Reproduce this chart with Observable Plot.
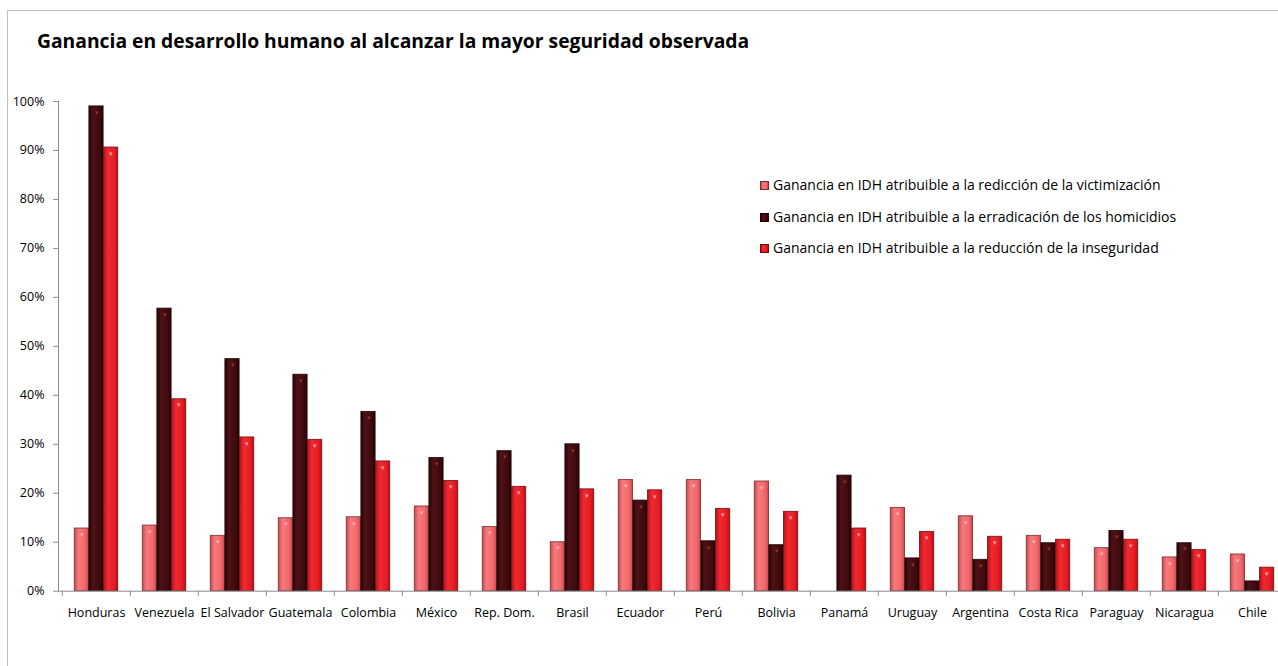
<!DOCTYPE html>
<html>
<head>
<meta charset="utf-8">
<script src="https://cdn.jsdelivr.net/npm/d3@7"></script>
<script src="https://cdn.jsdelivr.net/npm/@observablehq/plot@0.6"></script>
<style>
  html, body { margin: 0; padding: 0; background: #fff; overflow: hidden; width: 1278px; height: 666px; }
  #frame { position: absolute; left: 7px; top: 10px; width: 1400px; height: 800px; border: 1px solid #c3c3c3; box-sizing: border-box; }
  #title { position: absolute; left: 37px; top: 27px; font-family: "Open Sans", sans-serif; font-weight: bold; font-size: 19.3px; color: #000; white-space: nowrap; }
  #chart { position: absolute; left: 0; top: 80px; }
  #chart svg { max-width: none !important; }
  #legend { position: absolute; left: 760px; top: 175px; font-family: "Open Sans", sans-serif; font-size: 14px; color: #000; }
  .item { height: 31.5px; display: flex; align-items: flex-start; white-space: nowrap; }
  .sw { width: 9px; height: 9px; margin-right: 4px; margin-top: 6px; box-sizing: border-box; border: 1px solid; }
</style>
</head>
<body>
<div id="frame"></div>
<div id="title">Ganancia en desarrollo humano al alcanzar la mayor seguridad observada</div>
<div id="chart"></div>
<div id="legend"></div>
<script>
const countries = ["Honduras","Venezuela","El Salvador","Guatemala","Colombia","México","Rep. Dom.","Brasil","Ecuador","Perú","Bolivia","Panamá","Uruguay","Argentina","Costa Rica","Paraguay","Nicaragua","Chile"];
const victimizacion = [0.128,0.134,0.113,0.149,0.151,0.173,0.131,0.100,0.227,0.227,0.224,0,0.170,0.153,0.113,0.088,0.069,0.075];
const homicidios    = [0.990,0.577,0.474,0.442,0.366,0.272,0.286,0.300,0.185,0.102,0.094,0.236,0.067,0.064,0.098,0.123,0.098,0.020];
const inseguridad   = [0.906,0.392,0.314,0.309,0.265,0.225,0.213,0.208,0.206,0.168,0.162,0.128,0.121,0.111,0.105,0.105,0.084,0.048];
const seriesNames = [
  "Ganancia en IDH atribuible a la redicción de la victimización",
  "Ganancia en IDH atribuible a la erradicación de los homicidios",
  "Ganancia en IDH atribuible a la reducción de la inseguridad"
];
const yTicks = [0,0.1,0.2,0.3,0.4,0.5,0.6,0.7,0.8,0.9,1.0];

const seriesStyle = [
  {id: "gLight", stops: ["#c9484c", "#f47a7c", "#f2686b"], stroke: "#7a2a2c"},
  {id: "gDark",  stops: ["#2a0406", "#4f1216", "#3e0a0d"], stroke: "#1a0000"},
  {id: "gRed",   stops: ["#b5101a", "#f02a30", "#e81c24"], stroke: "#6e0c10"}
];

const allSeries = [victimizacion, homicidios, inseguridad];
const W = 1300, ML = 58, MR = 11;
const step = (W - ML - MR) / countries.length;
const barW = 14.6, pad = (step - 3 * barW) / 2;

const barMarks = allSeries.map((vals, i) => {
  const data = countries.map((c, j) => ({country: c, value: vals[j]})).filter(d => d.value > 0);
  return Plot.barY(data, {
    x: "country", y: "value",
    fill: `url(#${seriesStyle[i].id})`,
    stroke: seriesStyle[i].stroke, strokeWidth: 1, strokeOpacity: 0.8,
    insetLeft: pad + i * barW,
    insetRight: step - pad - (i + 1) * barW
  });
});

const highlightMarks = allSeries.map((vals, i) => {
  const data = countries.map((c, j) => ({country: c, value: vals[j]})).filter(d => d.value > 0.03);
  return Plot.text(data, {
    x: "country", y: "value", text: () => "▾",
    dx: -step / 2 + pad + (i + 0.5) * barW, dy: 6,
    fontSize: 7, fill: i === 1 ? "#a03a3e" : "#ffc0c0", fillOpacity: 0.8
  });
});

const plot = Plot.plot({
  width: W, height: 586,
  marginLeft: ML, marginRight: MR, marginTop: 21, marginBottom: 75.3,
  style: {fontFamily: "Open Sans, sans-serif", fontSize: "12.5px", color: "#000", background: "transparent", overflow: "visible"},
  x: {domain: countries, padding: 0},
  y: {domain: [0, 1]},
  marks: [
    Plot.axisY({ticks: yTicks, tickFormat: d3.format(".0%"), tickSize: 5, tickPadding: 9, stroke: "#8c8c8c", label: null, fontSize: 12.5}),
    Plot.axisX({tickSize: 0, tickPadding: 17, label: null, fontSize: 12.5}),
    Plot.ruleX(countries, {x: d => d, dx: -step / 2, y1: 0, y2: -0.011, stroke: "#8c8c8c"}),
    Plot.ruleX([countries[countries.length - 1]], {x: d => d, dx: step / 2, y1: 0, y2: -0.011, stroke: "#8c8c8c"}),
    ...barMarks,
    ...highlightMarks,
    Plot.frame({anchor: "left", stroke: "#8c8c8c"}),
    Plot.ruleY([0], {stroke: "#8c8c8c"})
  ]
});

const svg = d3.select(plot);
const defs = svg.insert("defs", ":first-child");
seriesStyle.forEach(s => {
  const g = defs.append("linearGradient").attr("id", s.id).attr("x1", "0").attr("x2", "1").attr("y1", "0").attr("y2", "0");
  g.append("stop").attr("offset", "0").attr("stop-color", s.stops[0]);
  g.append("stop").attr("offset", "0.3").attr("stop-color", s.stops[1]);
  g.append("stop").attr("offset", "0.75").attr("stop-color", s.stops[2]);
  g.append("stop").attr("offset", "1").attr("stop-color", s.stops[0]);
});
document.getElementById("chart").appendChild(plot);

const legend = document.getElementById("legend");
seriesNames.forEach((name, i) => {
  const s = seriesStyle[i];
  const item = document.createElement("div");
  item.className = "item";
  const sw = document.createElement("div");
  sw.className = "sw";
  sw.style.background = `linear-gradient(90deg, ${s.stops[0]}, ${s.stops[1]} 30%, ${s.stops[2]} 75%, ${s.stops[0]})`;
  sw.style.borderColor = s.stroke;
  const t = document.createElement("span");
  t.textContent = name;
  item.appendChild(sw); item.appendChild(t);
  legend.appendChild(item);
});
</script>
</body>
</html>
